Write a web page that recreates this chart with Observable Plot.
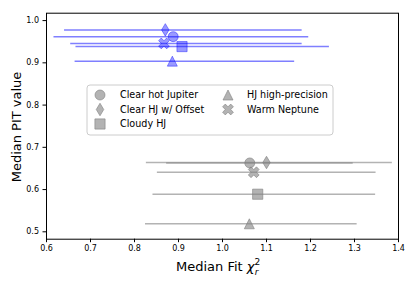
<!DOCTYPE html>
<html>
<head>
<meta charset="utf-8">
<script src="https://cdn.jsdelivr.net/npm/d3@7"></script>
<script src="https://cdn.jsdelivr.net/npm/@observablehq/plot@0.6"></script>
<style>
  html, body { margin: 0; padding: 0; background: #fff; }
  #chart { width: 415px; height: 288px; }
</style>
</head>
<body>
<div id="chart"></div>
<script>
// ---- data ----
const categories = ["Clear hot Jupiter", "Clear HJ w/ Offset", "Cloudy HJ", "HJ high-precision", "Warm Neptune"];
const shapes = ["circle", "thinDiamond", "square", "triangle", "xFilled"];

const blueChi  = [0.888, 0.870, 0.908, 0.886, 0.867];
const bluePit  = [0.962, 0.978, 0.9385, 0.904, 0.946];
const blueLo   = [0.617, 0.641, 0.667, 0.665, 0.655];
const blueHi   = [1.196, 1.181, 1.243, 1.164, 1.181];

const grayChi  = [1.062, 1.100, 1.080, 1.061, 1.071];
const grayPit  = [0.663, 0.664, 0.589, 0.519, 0.641];
const grayLo   = [0.873, 0.827, 0.842, 0.825, 0.852];
const grayHi   = [1.297, 1.386, 1.348, 1.306, 1.349];

const xTicks = [0.6, 0.7, 0.8, 0.9, 1.0, 1.1, 1.2, 1.3, 1.4];
const yTicks = [0.5, 0.6, 0.7, 0.8, 0.9, 1.0];

// ---- matplotlib-like marker symbols ----
function poly(ctx, pts) {
  ctx.moveTo(pts[0][0], pts[0][1]);
  for (let i = 1; i < pts.length; i++) ctx.lineTo(pts[i][0], pts[i][1]);
  ctx.closePath();
}
const symbols = {
  circle: { draw(ctx, size) { const r = Math.sqrt(size / Math.PI); ctx.moveTo(r, 0); ctx.arc(0, 0, r, 0, 2 * Math.PI); } },
  square: { draw(ctx, size) { const r = Math.sqrt(size / Math.PI) * 1.02; poly(ctx, [[-r, -r], [r, -r], [r, r], [-r, r]]); } },
  thinDiamond: { draw(ctx, size) { const r = Math.sqrt(size / Math.PI); poly(ctx, [[0, -1.25 * r], [0.75 * r, 0], [0, 1.25 * r], [-0.75 * r, 0]]); } },
  triangle: { draw(ctx, size) { const r = Math.sqrt(size / Math.PI); poly(ctx, [[0, -r], [r, r], [-r, r]]); } },
  xFilled: { draw(ctx, size) {
    const r = Math.sqrt(size / Math.PI);
    const L = r * 1.15, a = r * 0.38;
    const plus = [[-a, -L], [a, -L], [a, -a], [L, -a], [L, a], [a, a], [a, L], [-a, L], [-a, a], [-L, a], [-L, -a], [-a, -a]];
    poly(ctx, plus.map(([x, y]) => [(x - y) / Math.SQRT2, (x + y) / Math.SQRT2]));
  } }
};

const blueData = categories.map((c, i) => ({ cat: c, shape: shapes[i], chi: blueChi[i], pit: bluePit[i], lo: blueLo[i], hi: blueHi[i] }));
const grayData = categories.map((c, i) => ({ cat: c, shape: shapes[i], chi: grayChi[i], pit: grayPit[i], lo: grayLo[i], hi: grayHi[i] }));

const BLUE = "#0000ff";
const GRAY = "#808080";

function series(data, color, lineOp, fillOp) {
  return [
    Plot.ruleY(data, { y: "pit", x1: "lo", x2: "hi", stroke: color, strokeOpacity: lineOp, strokeWidth: 1.5 }),
    ...shapes.map(s => Plot.dot(data.filter(d => d.shape === s), {
      x: "chi", y: "pit", symbol: () => symbols[s], r: 5,
      fill: color, fillOpacity: fillOp, stroke: color, strokeOpacity: fillOp, strokeWidth: 1
    }))
  ];
}

const chart = Plot.plot({
  width: 415,
  height: 288,
  marginLeft: 46,
  marginRight: 17,
  marginTop: 12.7,
  marginBottom: 49.3,
  style: { fontFamily: "DejaVu Sans", fontSize: "8px", background: "white", color: "black" },
  x: { domain: [0.6, 1.4] },
  y: { domain: [0.4825, 1.0175] },
  marks: [
    ...series(blueData, BLUE, 0.5, 0.4),
    ...series(grayData, GRAY, 0.6, 0.6),
    Plot.axisX({ ticks: xTicks, tickFormat: d => d.toFixed(1), tickSize: 3.5, tickPadding: 3, label: null, stroke: "black" }),
    Plot.axisY({ ticks: yTicks, tickFormat: d => d.toFixed(1), tickSize: 3.5, tickPadding: 4, label: null, stroke: "black" }),
    Plot.frame({ stroke: "black", strokeWidth: 1 })
  ]
});

document.getElementById("chart").appendChild(chart);

// ---- axis labels ----
const svg = d3.select(chart);
const xl = svg.append("text")
  .attr("x", 176).attr("y", 271).attr("text-anchor", "start")
  .attr("font-family", "DejaVu Sans").attr("font-size", 13).attr("fill", "black");
xl.append("tspan").text("Median Fit ");
xl.append("tspan").attr("font-style", "italic").text("χ");
xl.append("tspan").attr("font-size", 9).attr("dy", -6).text("2");
xl.append("tspan").attr("font-size", 9).attr("font-style", "italic").attr("dx", -5.5).attr("dy", 10).text("r");

svg.append("text")
  .attr("transform", "translate(21,127) rotate(-90)")
  .attr("text-anchor", "middle")
  .attr("font-family", "DejaVu Sans").attr("font-size", 13).attr("fill", "black")
  .text("Median PIT value");

// ---- legend ----
const lg = svg.append("g").attr("text-anchor", "start");
lg.append("rect").attr("x", 87).attr("y", 85).attr("width", 246).attr("height", 50)
  .attr("rx", 3).attr("fill", "white").attr("fill-opacity", 0.8).attr("stroke", "#cccccc").attr("stroke-width", 1);
const cols = [[100, 120], [228, 247]];
const rows = [95, 109.5, 124];
categories.forEach((c, j) => {
  const col = j < 3 ? 0 : 1, row = j < 3 ? j : j - 3;
  const [mx, tx] = cols[col];
  const y = rows[row];
  lg.append("path")
    .attr("transform", `translate(${mx},${y})`)
    .attr("d", d3.symbol(symbols[shapes[j]], Math.PI * 25)())
    .attr("fill", GRAY).attr("fill-opacity", 0.6).attr("stroke", GRAY).attr("stroke-opacity", 0.6);
  lg.append("text").attr("x", tx).attr("y", y).attr("dy", "0.35em").attr("text-anchor", "start")
    .attr("font-family", "DejaVu Sans").attr("font-size", 9.6).attr("fill", "black")
    .text(c);
});
</script>
</body>
</html>
